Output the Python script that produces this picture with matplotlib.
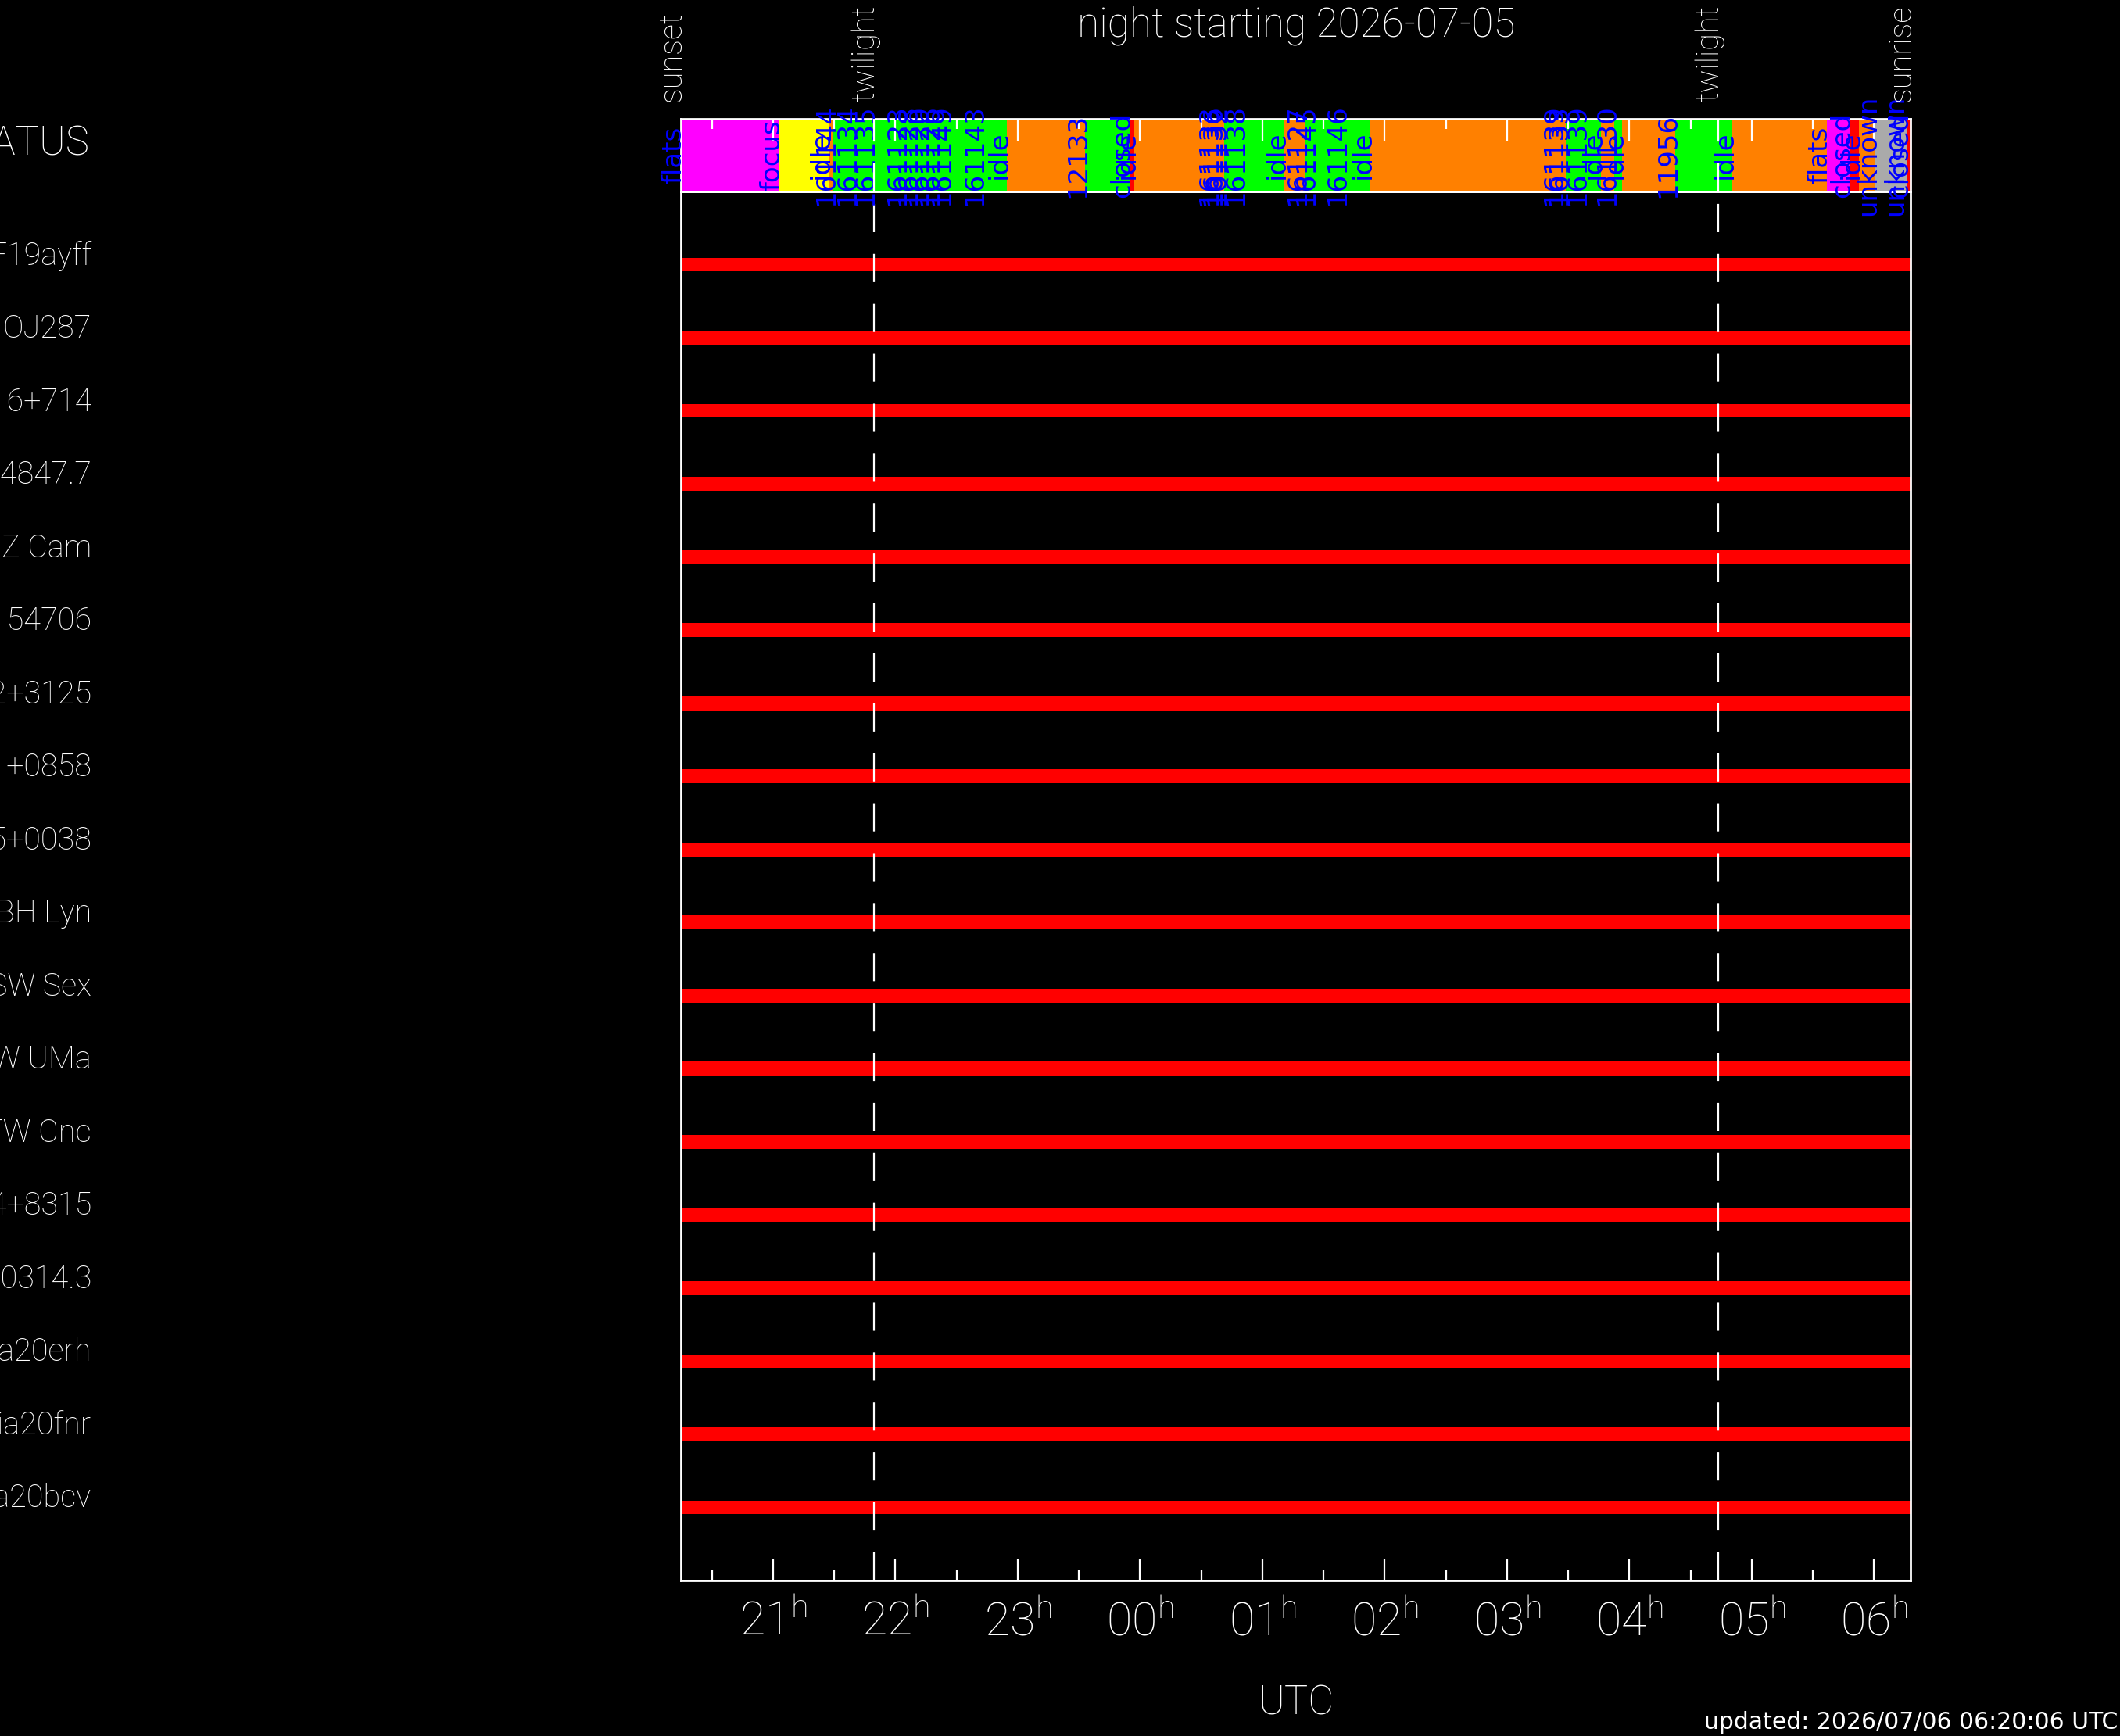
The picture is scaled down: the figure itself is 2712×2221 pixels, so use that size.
import matplotlib
matplotlib.use('Agg')
import matplotlib.pyplot as plt
from matplotlib.transforms import blended_transform_factory
import numpy as np

plt.rcParams['font.family'] = ['Roboto', 'DejaVu Sans']
plt.rcParams['font.weight'] = 'light'
plt.rcParams['axes.labelweight'] = 'light'
plt.rcParams['lines.scale_dashes'] = False

# ---------------- data ----------------
title = 'night starting 2026-07-05'
updated = 'updated: 2026/07/06 06:20:06 UTC'

# times in hours after midnight of the starting date (24+ = next morning)
sunset = 20.246
sunrise = 30.301
twilight_times = [21.823, 28.729]

targets = ['ZTF19ayff', 'OJ287', 'S5 0716+714', 'CSS 4847.7', 'Z Cam',
           'HD 154706', 'J0812+3125', 'J1021+0858', 'J1155+0038', 'BH Lyn',
           'SW Sex', 'W UMa', 'TW Cnc', 'J0524+8315', 'PBC J0314.3',
           'Gaia20erh', 'Gaia20fnr', 'Gaia20bcv']
window_start = [20.246, 20.246, 20.246, 20.246, 20.246, 20.246, 20.246, 20.246, 20.246,
                20.246, 20.246, 20.246, 20.246, 20.246, 20.246, 20.246, 20.246, 20.246]
window_end = [30.301, 30.301, 30.301, 30.301, 30.301, 30.301, 30.301, 30.301, 30.301,
              30.301, 30.301, 30.301, 30.301, 30.301, 30.301, 30.301, 30.301, 30.301]

status_start = [20.246, 21.051, 21.454, 21.492, 21.665, 21.812, 22.074, 22.163, 22.253,
                22.342, 22.438, 22.706, 22.911, 23.550, 23.914, 23.953, 24.624, 24.655,
                24.687, 24.841, 25.180, 25.346, 25.416, 25.672, 25.883, 27.442, 27.480,
                27.634, 27.768, 27.876, 27.940, 28.375, 28.841, 29.615, 29.800, 29.877,
                30.011, 30.235, 30.273]
status_label = ['flats', 'focus', 'idle', '161144', '161134', '161135', '161123', '161128',
                '161120', '161126', '161149', '161143', 'idle', '12133', 'closed', 'idle',
                '161133', '161136', '161132', '161138', 'idle', '161127', '161145', '161146',
                'idle', '161139', '161133', '161139', 'idle', '161130', 'idle', '11956',
                'idle', 'flats', 'closed', 'idle', 'unknown', 'unknown', 'closed']
status_state = ['flats', 'focus', 'idle', 'obs', 'obs', 'obs', 'obs', 'obs',
                'obs', 'obs', 'obs', 'obs', 'idle', 'obs', 'closed', 'idle',
                'idle', 'idle', 'obs', 'obs', 'idle', 'obs', 'obs', 'obs',
                'idle', 'idle', 'obs', 'obs', 'idle', 'obs', 'idle', 'obs',
                'idle', 'flats', 'closed', 'idle', 'unknown', 'unknown', 'closed']

hour_ticks = [21, 22, 23, 24, 25, 26, 27, 28, 29, 30]
hour_labels = ['21', '22', '23', '00', '01', '02', '03', '04', '05', '06']
half_ticks = [20.5, 21.5, 22.5, 23.5, 24.5, 25.5, 26.5, 27.5, 28.5, 29.5]

state_colors = {'flats': '#ff00ff', 'focus': '#ffff00', 'idle': '#ff8000',
                'obs': '#00ff00', 'closed': '#ff0000', 'unknown': '#aaaaaa'}

# ---------------- layout ----------------
W, H = 2712, 2221
fig = plt.figure(figsize=(W / 100, H / 100), dpi=100, facecolor='black')
L, R = 871 / W, 2444.4 / W
ax_s = fig.add_axes([L, 1 - 245 / H, R - L, (245 - 152) / H], zorder=3)
ax_m = fig.add_axes([L, 1 - 2022 / H, R - L, (2022 - 245) / H], zorder=2)

for ax in (ax_s, ax_m):
    ax.set_facecolor('black')
    ax.set_xlim(sunset, sunrise)
    for sp in ax.spines.values():
        sp.set_color('white')
        sp.set_linewidth(2.0)
    ax.set_xticks(hour_ticks)
    ax.set_xticks(half_ticks, minor=True)
    ax.tick_params(axis='y', left=False, right=False, labelleft=False)
    ax.tick_params(axis='x', which='major', direction='in', length=20, width=1.6,
                   color='white')
    ax.tick_params(axis='x', which='minor', direction='in', length=9.4, width=1.6,
                   color='white')

# status bar
ends = status_start[1:] + [sunrise]
widths = [e - s for s, e in zip(status_start, ends)]
cols = [state_colors[s] for s in status_state]
ax_s.barh(0.5, widths, left=status_start, height=1.0, color=cols,
          edgecolor='none', linewidth=0, zorder=1)
ax_s.set_ylim(0, 1)
ax_s.tick_params(axis='x', which='both', top=True, bottom=False,
                 labeltop=False, labelbottom=False)
for t, lab in zip(status_start, status_label):
    ax_s.text(t, 0.5, lab, rotation=90, rotation_mode='anchor', ha='center',
              va='baseline', color='#0000ff', fontsize=24.5, family='DejaVu Sans',
              fontweight='normal', zorder=3, clip_on=False)

# main panel
rows = np.arange(1, len(targets) + 1)
ax_m.barh(rows, np.array(window_end) - np.array(window_start), left=window_start,
          height=0.19, color='#ff0000', edgecolor='none', zorder=1)
ax_m.set_ylim(len(targets) + 1, 0)
ax_m.set_xticklabels([r'$\mathregular{%s^h}$' % s for s in hour_labels])
ax_m.tick_params(axis='x', which='both', top=False, bottom=True)
ax_m.tick_params(axis='x', which='major', labelsize=42.5, labelcolor='white', pad=18)
ax_m.set_xlabel('UTC', color='white', fontsize=36.5, fontweight='light')
ax_m.xaxis.set_label_coords(0.5, -(2193 - 2022) / 1777)
ax_m.xaxis.label.set_va('baseline')

for ax in (ax_s, ax_m):
    for t in twilight_times:
        ax.axvline(t, color='white', lw=1.6, ls=(0, (26, 20)), zorder=3.5)

# row labels
tr_m = blended_transform_factory(fig.transFigure, ax_m.transData)
for y, name in zip(rows, targets):
    ax_m.text(117 / W, y, name, transform=tr_m, ha='right', va='baseline',
              color='white', fontsize=28.5)
tr_s = blended_transform_factory(fig.transFigure, ax_s.transAxes)
ax_s.text(115 / W, 0.5, 'STATUS', transform=tr_s, ha='right', va='baseline',
          color='white', fontsize=36.5)

# sunset / twilight / sunrise markers
tr_top = blended_transform_factory(ax_s.transData, fig.transFigure)
for t, lab in [(sunset, 'sunset'), (twilight_times[0], 'twilight'),
               (twilight_times[1], 'twilight'), (sunrise, 'sunrise')]:
    ax_s.text(t, 1 - 130 / H, lab, transform=tr_top, rotation=90,
              rotation_mode='anchor', ha='left', va='baseline', color='white',
              fontsize=28.5, clip_on=False)

fig.text((L + R) / 2, 1 - 47 / H, title, ha='center', va='baseline',
         color='white', fontsize=37)
fig.text(2709 / W, 9 / H, updated, ha='right', va='baseline', color='white',
         fontsize=21.5, family='DejaVu Sans', fontweight='normal')

fig.savefig('out.png', dpi=100, facecolor='black')
